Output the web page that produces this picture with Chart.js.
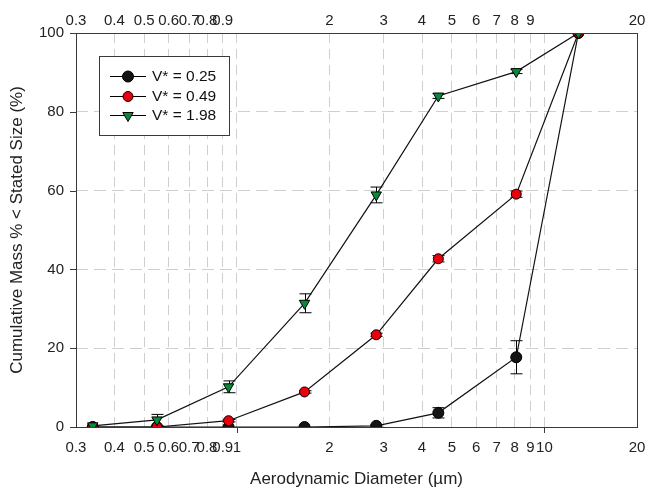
<!DOCTYPE html>
<html><head><meta charset="utf-8">
<script src="https://cdn.jsdelivr.net/npm/chart.js@4/dist/chart.umd.min.js"></script>
<style>html,body{margin:0;padding:0;background:#fff}#wrap{width:649px;height:491px}</style>
</head><body><div id="wrap"><canvas id="c" width="649" height="491"></canvas></div>
<script>
// ---- data ----
const diameters = [0.34, 0.55, 0.94, 1.66, 2.84, 4.52, 8.1, 12.9];
const massV025 = [0, 0, 0, 0, 0.3, 3.6, 17.7, 100];
const errV025  = [0, 0, 0, 0, 0.3, 1.3, 4.2, 0];
const massV049 = [0, 0, 1.6, 8.9, 23.4, 42.7, 59.1, 100];
const errV049  = [0, 0, 0.3, 0.3, 0.4, 0.8, 0.8, 0];
const massV198 = [0.3, 1.8, 10.2, 31.4, 58.9, 84.0, 90.2, 100];
const errV198  = [0, 1.4, 1.5, 2.4, 2.0, 0.6, 0.5, 0];
const seriesLabels = ['V* = 0.25', 'V* = 0.49', 'V* = 1.98'];
const xBottomTicks = [0.3,0.4,0.5,0.6,0.7,0.8,0.9,1,2,3,4,5,6,7,8,9,10,20];
const xTopTicks = [0.3,0.4,0.5,0.6,0.7,0.8,0.9,2,3,4,5,6,7,8,9,20];
const xMajorTicks = [1, 10];
const yTicks = [0,20,40,60,80,100];
const xTitle = 'Aerodynamic Diameter (µm)';
const yTitle = 'Cumulative Mass % < Stated Size (%)';

const FONT = '"Liberation Sans", Arial, sans-serif';
const pts = (ys) => diameters.map((d, i) => ({x: d, y: ys[i]}));

const styles = [
  {bg:'#141414', style:'circle', r:5.5, rot:0},
  {bg:'#e8000c', style:'circle', r:5, rot:0},
  {bg:'#078a3a', style:'triangle', r:6, rot:180}
];

const datasets = [massV025, massV049, massV198].map((ys, i) => ({
  label: seriesLabels[i],
  data: pts(ys),
  errors: [errV025, errV049, errV198][i],
  borderColor: '#111',
  borderWidth: 1.2,
  backgroundColor: styles[i].bg,
  pointBackgroundColor: styles[i].bg,
  pointBorderColor: '#000',
  pointBorderWidth: 1,
  pointStyle: styles[i].style,
  pointRotation: styles[i].rot,
  pointRadius: styles[i].r,
  pointHoverRadius: styles[i].r,
  tension: 0,
  order: 3 - i
}));

const errorBars = {
  id: 'errorBars',
  beforeDatasetsDraw(chart) {
    const ctx = chart.ctx, xs = chart.scales.x, ys = chart.scales.y;
    ctx.save();
    ctx.strokeStyle = '#000'; ctx.lineWidth = 1;
    chart.data.datasets.forEach(ds => {
      ds.data.forEach((p, j) => {
        const e = ds.errors[j];
        if (!e) return;
        const px = Math.round(xs.getPixelForValue(p.x)) + 0.5;
        const y1 = ys.getPixelForValue(p.y + e), y2 = ys.getPixelForValue(p.y - e);
        ctx.beginPath();
        ctx.moveTo(px, y1); ctx.lineTo(px, y2);
        ctx.moveTo(px - 6, y1); ctx.lineTo(px + 6, y1);
        ctx.moveTo(px - 6, y2); ctx.lineTo(px + 6, y2);
        ctx.stroke();
      });
    });
    ctx.restore();
  }
};

const frameAndLegend = {
  id: 'frameAndLegend',
  afterDraw(chart) {
    const ctx = chart.ctx, a = chart.chartArea, xs = chart.scales.x, ys = chart.scales.y;
    ctx.save();
    ctx.strokeStyle = '#3a3a3a'; ctx.lineWidth = 1;
    ctx.strokeRect(Math.round(a.left) + 0.5, Math.round(a.top) + 0.5,
                   Math.round(a.right - a.left), Math.round(a.bottom - a.top));
    ctx.beginPath();
    yTicks.forEach(v => {
      const y = Math.round(ys.getPixelForValue(v)) + 0.5;
      ctx.moveTo(a.left - 6, y); ctx.lineTo(a.left, y);
    });
    xMajorTicks.forEach(v => {
      const x = Math.round(xs.getPixelForValue(v)) + 0.5;
      ctx.moveTo(x, a.bottom); ctx.lineTo(x, a.bottom + 6);
    });
    ctx.stroke();

    // legend box
    const lx = 99, ly = 56, lw = 130, lh = 79;
    ctx.fillStyle = '#fff';
    ctx.fillRect(lx, ly, lw, lh);
    ctx.strokeStyle = '#3a3a3a';
    ctx.strokeRect(lx + 0.5, ly + 0.5, lw, lh);
    const rows = [76, 96, 115];
    chart.data.datasets.forEach((ds, i) => {
      const y = rows[i];
      ctx.strokeStyle = '#000'; ctx.lineWidth = 1;
      ctx.beginPath(); ctx.moveTo(110, y + 0.5); ctx.lineTo(146, y + 0.5); ctx.stroke();
      ctx.fillStyle = styles[i].bg; ctx.strokeStyle = '#000';
      Chart.helpers.drawPoint(ctx, {pointStyle: styles[i].style, radius: styles[i].r,
        rotation: styles[i].rot, borderWidth: 1}, 128, y + 0.5);
      ctx.fillStyle = '#111';
      ctx.font = '15.5px ' + FONT;
      ctx.textBaseline = 'middle'; ctx.textAlign = 'left';
      ctx.fillText(ds.label, 152, y + 1);
    });
    ctx.restore();
  }
};

const tickFont = {family: FONT, size: 15};
const gridCol = '#cfcfcf';
const noPad = s => { s.paddingLeft = 0; s.paddingRight = 0; };

new Chart(document.getElementById('c'), {
  type: 'line',
  data: {datasets},
  plugins: [errorBars, frameAndLegend],
  options: {
    responsive: false,
    animation: false,
    devicePixelRatio: 1,
    layout: {padding: {left: 0, right: 12, top: 0, bottom: 0}},
    plugins: {legend: {display: false}, tooltip: {enabled: false}},
    scales: {
      x: {
        type: 'logarithmic', position: 'bottom', min: 0.3, max: 20,
        afterBuildTicks: s => { s.ticks = xBottomTicks.map(v => ({value: v})); },
        afterFit: s => { s.height = 64; noPad(s); },
        ticks: {autoSkip: false, maxRotation: 0, minRotation: 0, padding: 12,
          color: '#222', font: tickFont, callback: v => String(v)},
        grid: {drawTicks: false, lineWidth: 1,
          color: c => (c.tick && c.tick.value > 0.3 && c.tick.value < 20) ? gridCol : 'rgba(0,0,0,0)'},
        border: {display: false, dash: [10, 6]},
        title: {display: true, text: xTitle, color: '#222',
          font: {family: FONT, size: 17}, padding: {top: 0, bottom: 1}}
      },
      x2: {
        type: 'logarithmic', position: 'top', min: 0.3, max: 20,
        afterBuildTicks: s => { s.ticks = xTopTicks.map(v => ({value: v})); },
        afterFit: s => { s.height = 33; noPad(s); },
        ticks: {autoSkip: false, maxRotation: 0, minRotation: 0, padding: 3,
          color: '#222', font: tickFont, callback: v => String(v)},
        grid: {display: false, drawTicks: false},
        border: {display: false}
      },
      y: {
        type: 'linear', min: 0, max: 100,
        afterBuildTicks: s => { s.ticks = yTicks.map(v => ({value: v})); },
        afterFit: s => { s.width = 76; s.paddingTop = 0; s.paddingBottom = 0; },
        ticks: {padding: 12, color: '#222', font: tickFont},
        grid: {drawTicks: false, lineWidth: 1,
          color: c => (c.tick && c.tick.value > 0 && c.tick.value < 100) ? gridCol : 'rgba(0,0,0,0)'},
        border: {display: false, dash: [12, 6]},
        title: {display: true, text: yTitle, color: '#222',
          font: {family: FONT, size: 17}, padding: {top: 7, bottom: 0}}
      }
    }
  }
});
</script></body></html>
